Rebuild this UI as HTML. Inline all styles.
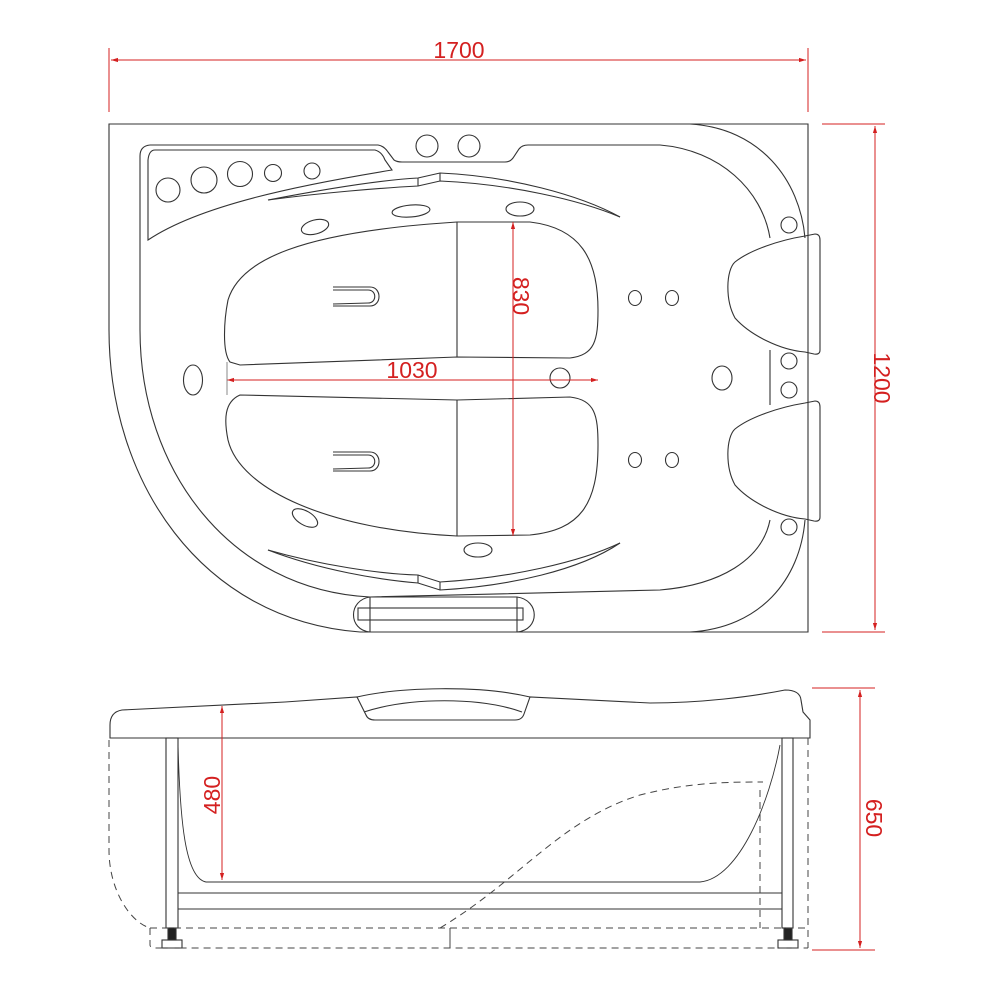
<!DOCTYPE html>
<html><head><meta charset="utf-8"><style>
html,body{margin:0;padding:0;background:#fff;}
svg{display:block}
text{font-family:"Liberation Sans",sans-serif;fill:#d42020;font-size:23px}
</style></head><body>
<svg width="1000" height="1000" viewBox="0 0 1000 1000" xmlns="http://www.w3.org/2000/svg">
<defs>
<marker id="a" viewBox="0 0 10 10" refX="10" refY="5" markerWidth="7" markerHeight="7" orient="auto-start-reverse"><path d="M0,2 L10,5 L0,8z" fill="#d42020"/></marker>
</defs>
<g fill="none" stroke="#333" stroke-width="1.1">
<!-- outer top view -->
<path d="M360,632 L808,632 L808,124 L109,124 L109,330 C109,480 200,620 360,632"/>
<!-- right corner outer arc -->
<path d="M690,124 C760,128 800,180 805,238"/>
<path d="M690,632 C760,628 800,580 805,520"/>
<!-- rim inner -->
<path d="M150,145 L378,145 Q384,146 388,152 L394,160 Q397,162 402,162 L505,162 Q510,162 513,158 L519,149 Q522,145 528,145 L660,145 C720,150 762,190 770,238"/>
<path d="M150,145 Q140,146 140,156 L140,330 C140,470 230,590 370,597 L660,590 C720,585 762,560 770,520"/>
<!-- left panel -->
<path d="M148,160 Q149,150 155,150 L375,150 Q382,152 385,160 L392,170 C300,185 200,205 148,240 Z"/>
<circle cx="168" cy="190" r="12"/><circle cx="204" cy="180" r="13"/><circle cx="240" cy="174" r="12.5"/><circle cx="273" cy="173" r="8.5"/><circle cx="312" cy="171" r="8"/>
<circle cx="427" cy="146" r="11"/><circle cx="469" cy="146" r="11"/>
<!-- upper ridge -->
<path d="M268,200 C320,190 380,180 418,178 L440,173 C510,176 580,195 620,217"/>
<path d="M268,200 C320,193 380,188 418,186 L440,181 C510,184 580,200 620,217"/>
<line x1="418" y1="178" x2="418" y2="186"/><line x1="440" y1="173" x2="440" y2="181"/>
<!-- lower ridge -->
<path d="M268,550 C320,565 380,574 418,575 L440,582 C510,578 580,562 620,543"/>
<path d="M268,550 C320,570 380,580 418,583 L440,590 C510,586 580,570 620,543"/>
<line x1="418" y1="575" x2="418" y2="583"/><line x1="440" y1="582" x2="440" y2="590"/>
<!-- upper seat -->
<path d="M230,362 C222,352 224,320 228,300 C240,260 300,232 457,222 L530,222 C580,228 598,258 598,310 C598,340 595,355 570,358 L457,357 L240,365 Z"/>
<line x1="457" y1="222" x2="457" y2="357"/>
<!-- lower seat -->
<path d="M240,395 L457,400 L570,397 C595,400 598,415 598,445 C598,505 580,530 530,535 L457,536 C330,530 240,490 228,440 C224,420 224,402 240,395 Z"/>
<line x1="457" y1="400" x2="457" y2="536"/>
<!-- U shapes -->
<path d="M333,287 L370,287 C382,287 382,306 370,306 L333,306"/><path d="M333,290 L368,290 C377,290 377,303 368,303 L333,304"/>
<path d="M333,452 L370,452 C382,452 382,471 370,471 L333,471"/><path d="M333,455 L368,455 C377,455 377,468 368,468 L333,469"/>
<!-- jets -->
<ellipse cx="315" cy="227" rx="14" ry="7" transform="rotate(-15 315 227)"/>
<ellipse cx="411" cy="211" rx="19" ry="6" transform="rotate(-5 411 211)"/>
<ellipse cx="520" cy="209" rx="14" ry="7"/>
<ellipse cx="193" cy="380" rx="9.5" ry="15"/>
<circle cx="560" cy="378" r="10"/>
<ellipse cx="722" cy="378" rx="10" ry="12"/>
<ellipse cx="635" cy="298" rx="6.5" ry="7.5"/><ellipse cx="672" cy="298" rx="6.5" ry="7.5"/>
<ellipse cx="635" cy="460" rx="6.5" ry="7.5"/><ellipse cx="672" cy="460" rx="6.5" ry="7.5"/>
<ellipse cx="305" cy="518" rx="14" ry="7" transform="rotate(30 305 518)"/>
<ellipse cx="478" cy="550" rx="14" ry="7"/>
<circle cx="789" cy="225" r="8"/><circle cx="789" cy="361" r="8"/><circle cx="789" cy="390" r="8"/><circle cx="789" cy="527" r="8"/>
<line x1="770" y1="350" x2="770" y2="405"/>
<!-- headrests -->
<path d="M805,236 L815,234 Q820,234 820,240 L820,350 Q820,355 814,354 L805,352 C780,350 750,335 735,318 C725,300 726,270 735,262 C750,250 780,240 805,236 Z"/>
<path d="M805,403 L815,401 Q820,401 820,407 L820,517 Q820,522 814,521 L805,519 C780,517 750,502 735,485 C725,467 726,437 735,429 C750,417 780,407 805,403 Z"/>
<!-- grab handle -->
<path d="M370,597 L517,597 C540,600 540,630 517,632 L370,632 C348,630 348,600 370,597 Z"/>
<line x1="370" y1="597" x2="370" y2="632"/><line x1="517" y1="597" x2="517" y2="632"/>
<rect x="358" y="608" width="165" height="12"/>
<!-- side view deck -->
<path d="M110,738 L110,725 Q110,712 122,710 L285,702 L357,697 L366,715 Q368,720 375,720 L515,720 Q522,720 524,714 L530,697 L650,703 C700,703 750,697 785,690 Q800,690 801,700 L803,712 L810,720 L810,738 Z"/>
<path d="M357,697 C400,687 480,685 530,697"/>
<path d="M364,712 C410,697 480,697 522,712"/>
<line x1="110" y1="738" x2="810" y2="738"/>
<!-- legs -->
<rect x="166" y="738" width="12" height="190"/>
<rect x="782" y="738" width="11" height="190"/>
<rect x="162" y="940" width="20" height="8"/><rect x="778" y="940" width="20" height="8"/>
<rect x="168" y="928" width="8" height="12" fill="#222"/><rect x="784" y="928" width="8" height="12" fill="#222"/>
<line x1="178" y1="893" x2="782" y2="893"/><line x1="178" y1="909" x2="782" y2="909"/>
<!-- tub interior -->
<path d="M178,745 C180,820 185,878 206,882 L700,882 C740,878 770,800 780,745" stroke-width="0.9"/>
</g>
<!-- dashed -->
<g fill="none" stroke="#444" stroke-width="1" stroke-dasharray="7,5">
<path d="M109,740 L109,850 C109,890 130,922 150,928"/>
<path d="M150,928 L808,928 M150,928 L150,945 Q150,948 156,948 L808,948"/>
<line x1="808" y1="738" x2="808" y2="948"/>
<path d="M440,928 C520,880 560,820 640,795 C690,782 730,782 763,782"/>
<line x1="760" y1="790" x2="760" y2="928"/>
</g>
<line x1="450" y1="928" x2="450" y2="948" stroke="#444" stroke-width="1"/>
<!-- dimensions -->
<g stroke="#d42020" stroke-width="1" fill="none">
<line x1="109" y1="48" x2="109" y2="112"/><line x1="808" y1="48" x2="808" y2="112"/>
<line x1="111" y1="60" x2="806" y2="60" marker-start="url(#a)" marker-end="url(#a)"/>
<line x1="822" y1="124" x2="885" y2="124"/><line x1="822" y1="632" x2="885" y2="632"/>
<line x1="875" y1="126" x2="875" y2="630" marker-start="url(#a)" marker-end="url(#a)"/>
<line x1="227" y1="380" x2="598" y2="380" marker-start="url(#a)" marker-end="url(#a)"/>
<line x1="227" y1="362" x2="227" y2="395" stroke="#888"/>
<line x1="513" y1="222" x2="513" y2="536" marker-start="url(#a)" marker-end="url(#a)"/>
<line x1="222" y1="706" x2="222" y2="880" marker-start="url(#a)" marker-end="url(#a)"/>
<line x1="812" y1="688" x2="875" y2="688"/><line x1="812" y1="950" x2="875" y2="950"/>
<line x1="860" y1="690" x2="860" y2="948" marker-start="url(#a)" marker-end="url(#a)"/>
</g>
<text x="459" y="58" text-anchor="middle">1700</text>
<text x="412" y="378" text-anchor="middle">1030</text>
<text transform="translate(874,378) rotate(90)" text-anchor="middle">1200</text>
<text transform="translate(513,296) rotate(90)" text-anchor="middle">830</text>
<text transform="translate(220,795) rotate(-90)" text-anchor="middle">480</text>
<text transform="translate(866,818) rotate(90)" text-anchor="middle">650</text>
</svg>
</body></html>
